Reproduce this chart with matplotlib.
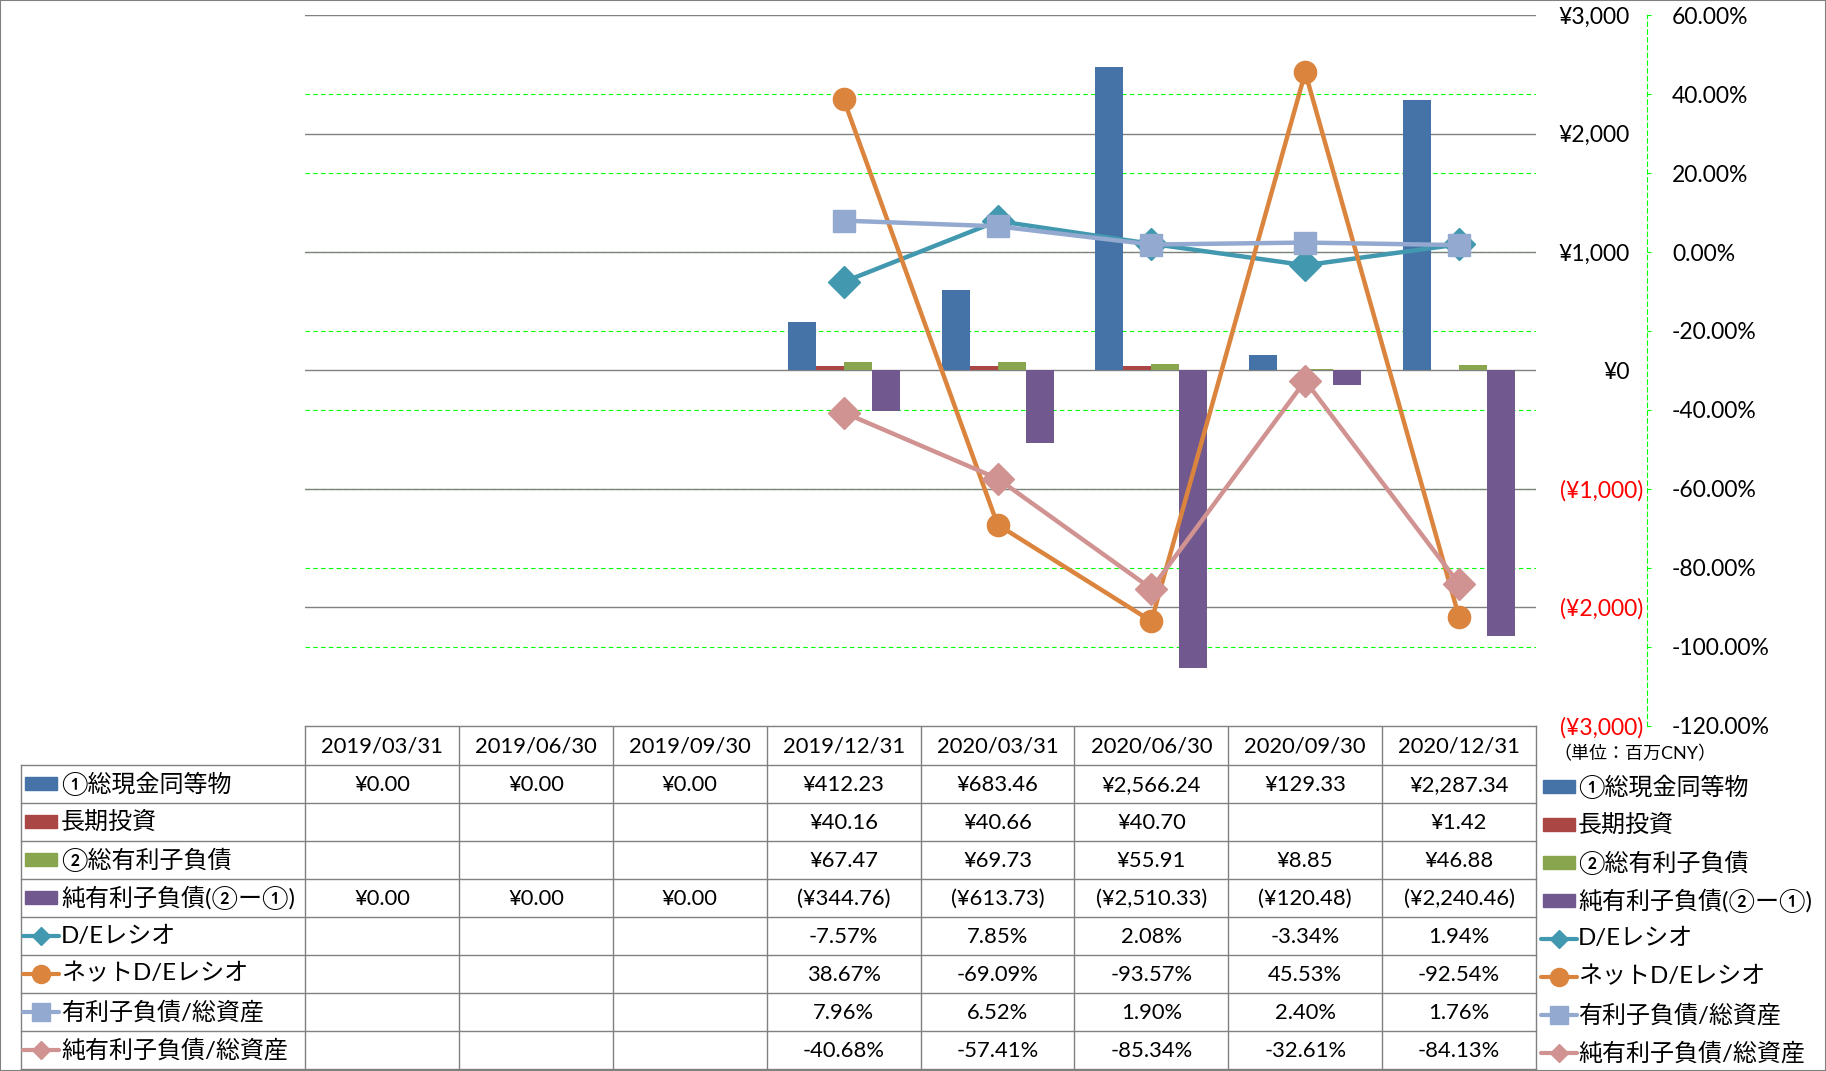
import numpy as np
import matplotlib
matplotlib.use('Agg')
import matplotlib.pyplot as plt
from matplotlib.patches import Rectangle

plt.rcParams['font.family'] = ['Lato', 'Noto Sans CJK JP']

W, H = 1826, 1071

dates = ['2019/03/31', '2019/06/30', '2019/09/30', '2019/12/31',
         '2020/03/31', '2020/06/30', '2020/09/30', '2020/12/31']

nan = np.nan
cash = [0.00, 0.00, 0.00, 412.23, 683.46, 2566.24, 129.33, 2287.34]
lt_invest = [nan, nan, nan, 40.16, 40.66, 40.70, nan, 1.42]
debt = [nan, nan, nan, 67.47, 69.73, 55.91, 8.85, 46.88]
net_debt = [0.00, 0.00, 0.00, -344.76, -613.73, -2510.33, -120.48, -2240.46]

de_ratio = [nan, nan, nan, -7.57, 7.85, 2.08, -3.34, 1.94]
net_de_ratio = [nan, nan, nan, 38.67, -69.09, -93.57, 45.53, -92.54]
debt_assets = [nan, nan, nan, 7.96, 6.52, 1.90, 2.40, 1.76]
net_debt_assets = [nan, nan, nan, -40.68, -57.41, -85.34, -32.61, -84.13]

bar_names = ['①総現金同等物', '長期投資', '②総有利子負債', '純有利子負債(②ー①)']
bar_vals = [cash, lt_invest, debt, net_debt]
bar_cols = ['#4572A7', '#AA4643', '#89A54E', '#71588F']

line_names = ['D/Eレシオ', 'ネットD/Eレシオ', '有利子負債/総資産', '純有利子負債/総資産']
line_vals = [de_ratio, net_de_ratio, debt_assets, net_debt_assets]
line_cols = ['#4198AF', '#DB843D', '#93A9CF', '#D19392']
line_mk = ['D', 'o', 's', 'D']
line_ms = [16, 16, 16, 16]
key_ms = [9.5, 13, 13, 9.5]

yen_ticks = list(range(-3000, 3001, 1000))
pct_ticks = list(range(-120, 61, 20))


def yen_fmt(v):
    if v < 0:
        return f'(¥{-v:,.2f})'
    return f'¥{v:,.2f}'


def yen_tick(v):
    if v < 0:
        return f'(¥{-v:,.0f})'
    return f'¥{v:,.0f}'


fig = plt.figure(figsize=(W / 100, H / 100), dpi=100)

left, right, top, bot = 305.3, 1536.0, 15.3, 725.5
col_w = (right - left) / 8


def rect(x0, y0, x1, y1):
    return [x0 / W, 1 - y1 / H, (x1 - x0) / W, (y1 - y0) / H]


ax = fig.add_axes(rect(left, top, right, bot))
ax2 = ax.twinx()

ax.set_xlim(-0.5, 7.5)
ax.set_ylim(-3000, 3000)
x = np.arange(len(dates))
bw = 1 / 5.5
for i, (vals, c) in enumerate(zip(bar_vals, bar_cols)):
    ax.bar(x + (i - 1.5) * bw, vals, bw, color=c, zorder=3)

ax.yaxis.tick_right()
ax.set_yticks(yen_ticks)
ax.set_yticklabels([yen_tick(v) for v in yen_ticks])
ax.tick_params(axis='y', length=0, pad=77, labelsize=16.5)
for lab, v in zip(ax.get_yticklabels(), yen_ticks):
    lab.set_ha('right')
    lab.set_color('red' if v < 0 else 'black')
    if v >= 0:
        # room for the closing bracket, like Excel's _) format
        lab.set_x(1 - 13 / (right - left))
ax.tick_params(axis='x', bottom=False, labelbottom=False)
for s in ax.spines.values():
    s.set_visible(False)
ax.set_axisbelow(True)
ax.grid(axis='y', color='#808080', lw=1.0)

ax2.set_ylim(-120, 60)
ax2.set_yticks(pct_ticks)
ax2.set_yticklabels([f'{v:.2f}%' for v in pct_ticks])
ax2.tick_params(axis='y', color='#00FF00', length=3, width=0.8, pad=15,
                labelsize=16.5)
for lab, v in zip(ax2.get_yticklabels(), pct_ticks):
    lab.set_color('red' if v < 0 else 'black')
for k in ['top', 'bottom', 'left']:
    ax2.spines[k].set_visible(False)
ax2.spines['right'].set_position(('outward', 80))
ax2.spines['right'].set_color('#00FF00')
ax2.spines['right'].set_linestyle((0, (4, 3)))
ax2.spines['right'].set_linewidth(0.8)

# secondary gridlines live on the primary axes so the bars cover them
y0, y1 = ax.get_ylim()
p0, p1 = ax2.get_ylim()
for p in pct_ticks:
    ax.axhline(y0 + (p - p0) / (p1 - p0) * (y1 - y0), color='#00FF00',
               lw=0.8, ls=(0, (4, 3)), zorder=0.4)

for vals, c, m, ms in zip(line_vals, line_cols, line_mk, line_ms):
    ax2.plot(x, vals, color=c, lw=3.2, marker=m, ms=ms, zorder=3)

# data table + legend, in pixel coordinates
ov = fig.add_axes([0, 0, 1, 1], zorder=-1)
ov.set_xlim(0, W)
ov.set_ylim(H, 0)
ov.axis('off')

gc = '#808080'
lab_left = 20.7
hdr_h = 39.5
row_h = 38.0
n_rows = 8
tab_bot = bot + hdr_h + n_rows * row_h

ov.plot([left, right], [bot, bot], color=gc, lw=1.0)
for k in range(9):
    xx = left + k * col_w
    ov.plot([xx, xx], [bot, tab_bot], color=gc, lw=1.0)
ov.plot([lab_left, lab_left], [bot + hdr_h, tab_bot], color=gc, lw=1.0)
for r in range(n_rows + 1):
    yy = bot + hdr_h + r * row_h
    ov.plot([lab_left, right], [yy, yy], color=gc, lw=1.0)

for i, d in enumerate(dates):
    ov.text(left + (i + 0.5) * col_w, bot + hdr_h / 2 + 1, d, ha='center',
            va='center', fontsize=15.8)

rows_txt = []
for vals in bar_vals:
    rows_txt.append(['' if np.isnan(v) else yen_fmt(v) for v in vals])
for vals in line_vals:
    rows_txt.append(['' if np.isnan(v) else f'{v:.2f}%' for v in vals])

names = bar_names + line_names
for r in range(n_rows):
    yc = bot + hdr_h + (r + 0.5) * row_h
    for i, t in enumerate(rows_txt[r]):
        ov.text(left + (i + 0.5) * col_w, yc + 1, t, ha='center', va='center',
                fontsize=15.8)
    for kx, tx, dy in [(25, 61, 0), (1543, 1578, 3)]:
        if r < 4:
            ov.add_patch(Rectangle((kx, yc + dy - 7), 32, 13, color=bar_cols[r]))
        else:
            j = r - 4
            ov.plot([kx - 2, kx + 34], [yc + dy, yc + dy], color=line_cols[j],
                    lw=3, solid_capstyle='round')
            ov.plot([kx + 16], [yc + dy], marker=line_mk[j], ms=key_ms[j],
                    color=line_cols[j])
        ov.text(tx, yc + dy, names[r], ha='left', va='center', fontsize=17.3)

ov.text(1553, 754, '（単位：百万CNY）', ha='left', va='center', fontsize=13)

fig.add_artist(Rectangle((0, 0), 1, 1, transform=fig.transFigure, fill=False,
                         ec='#808080', lw=1.5))

fig.savefig('out.png', dpi=100)
